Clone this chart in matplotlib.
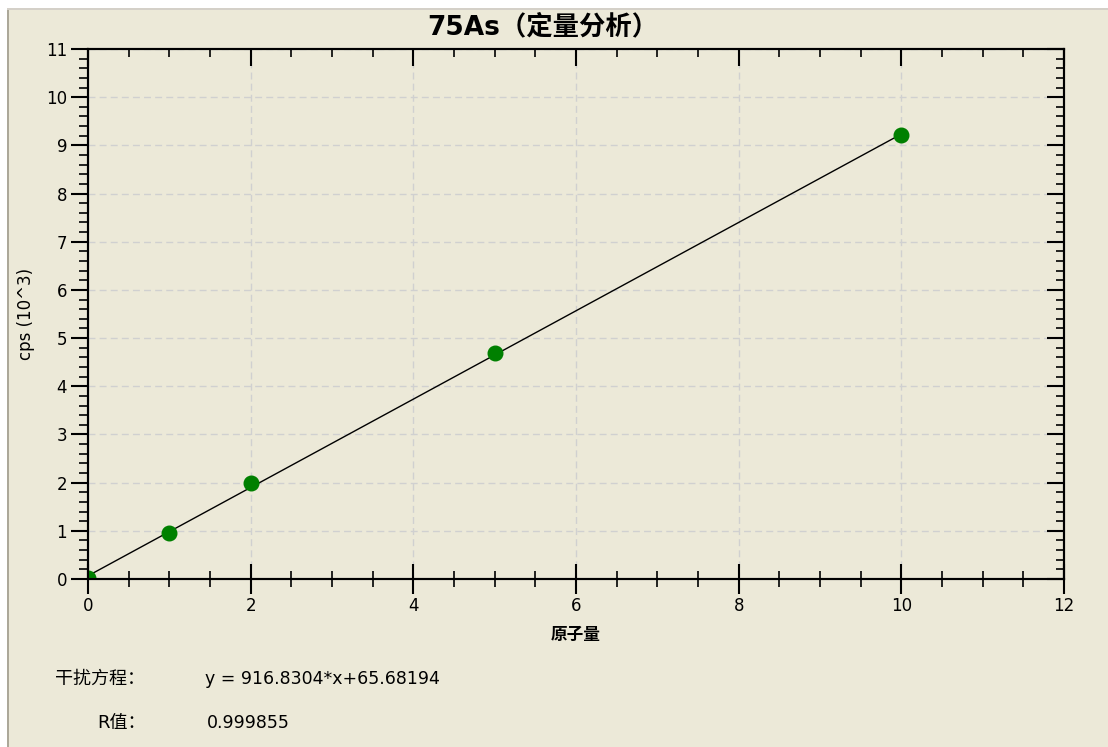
import matplotlib
matplotlib.use("Agg")
import matplotlib.pyplot as plt
from matplotlib.ticker import MultipleLocator
from matplotlib.patches import Rectangle

plt.rcParams['font.family'] = ['DejaVu Sans', 'Noto Sans CJK SC']

# calibration standards (concentration, cps in 10^3)
conc = [0, 1, 2, 5, 10]
cps = [0.02, 0.96, 1.99, 4.69, 9.21]

# fitted line endpoints
fit_x = [0, 10]
fit_y = [0.0657, 9.2340]

title = "75As（定量分析）"
eq_label = "干扰方程："
eq_text = "y = 916.8304*x+65.68194"
r_label = "R值："
r_text = "0.999855"

bg = "#ECE9D8"
W, H = 1108, 747

fig = plt.figure(figsize=(W / 100, H / 100), dpi=100, facecolor=bg)

# window frame: white strip on top / left, grey edge lines
fig.patches.append(Rectangle((0, 1 - 8 / H), 1, 8 / H, transform=fig.transFigure,
                             facecolor="white", edgecolor="none", zorder=0))
fig.patches.append(Rectangle((0, 1 - 10 / H), 1, 2 / H, transform=fig.transFigure,
                             facecolor="#D4D0C8", edgecolor="none", zorder=0))
fig.patches.append(Rectangle((0, 0), 7 / W, 1 - 8 / H, transform=fig.transFigure,
                             facecolor="white", edgecolor="none", zorder=0))
fig.patches.append(Rectangle((7 / W, 0), 2 / W, 1 - 10 / H, transform=fig.transFigure,
                             facecolor="#ACA899", edgecolor="none", zorder=0))

left, right, top, bottom = 88, 1064, 49, 579
rect = [left / W, 1 - bottom / H, (right - left) / W, (bottom - top) / H]
ax = fig.add_axes(rect)
ax.set_facecolor(bg)

ax.plot(fit_x, fit_y, color="black", lw=1.0, zorder=3)
ax.plot(conc, cps, "o", color="#008000", ms=10.5, zorder=4)

for a in (ax,):
    a.set_xlim(0, 12)
    a.set_ylim(0, 11)

ax.xaxis.set_major_locator(MultipleLocator(2))
ax.xaxis.set_minor_locator(MultipleLocator(0.5))
ax.yaxis.set_major_locator(MultipleLocator(1))
ax.yaxis.set_minor_locator(MultipleLocator(0.2))

ax.grid(True, which="major", color="#D0D0D0", ls=(0, (5, 3)), lw=1.0)
ax.set_axisbelow(True)

for s in ax.spines.values():
    s.set_linewidth(1.5)

ax.tick_params(axis="x", which="major", direction="inout", length=22, width=1.5,
               labelsize=12, pad=2, top=False)
ax.tick_params(axis="x", which="minor", direction="inout", length=12, width=1.2, top=False)
ax.tick_params(axis="y", which="major", direction="out", length=12, width=1.5,
               labelsize=12, pad=3, right=False)
ax.tick_params(axis="y", which="minor", direction="out", length=6.5, width=1.2, right=False)

# overlay axes carrying the inward ticks on top and right
ov = fig.add_axes(rect, facecolor="none", zorder=5)
ov.set_xlim(0, 12)
ov.set_ylim(0, 11)
ov.xaxis.set_major_locator(MultipleLocator(2))
ov.xaxis.set_minor_locator(MultipleLocator(0.5))
ov.yaxis.set_major_locator(MultipleLocator(1))
ov.yaxis.set_minor_locator(MultipleLocator(0.2))
for s in ov.spines.values():
    s.set_linewidth(1.5)
ov.tick_params(which="both", direction="in", bottom=False, left=False, top=True, right=True,
               labelbottom=False, labelleft=False, labeltop=False, labelright=False)
ov.tick_params(which="major", length=12, width=1.5)
ov.tick_params(which="minor", length=6, width=1.2)

ax.set_ylabel("cps (10^3)", fontsize=12, labelpad=8)
ax.set_xlabel("原子量", fontsize=12, fontweight="bold", labelpad=8)

fig.text(543 / W, 1 - 27 / H, title, ha="center", va="center",
         fontsize=19, fontweight="bold")

fig.text(55 / W, 1 - 679 / H, eq_label, ha="left", va="center", fontsize=13)
fig.text(205 / W, 1 - 679 / H, eq_text, ha="left", va="center", fontsize=12.5)
fig.text(97 / W, 1 - 723 / H, r_label, ha="left", va="center", fontsize=13)
fig.text(207 / W, 1 - 723 / H, r_text, ha="left", va="center", fontsize=12.5)

fig.savefig("out.png", dpi=100, facecolor=bg)
